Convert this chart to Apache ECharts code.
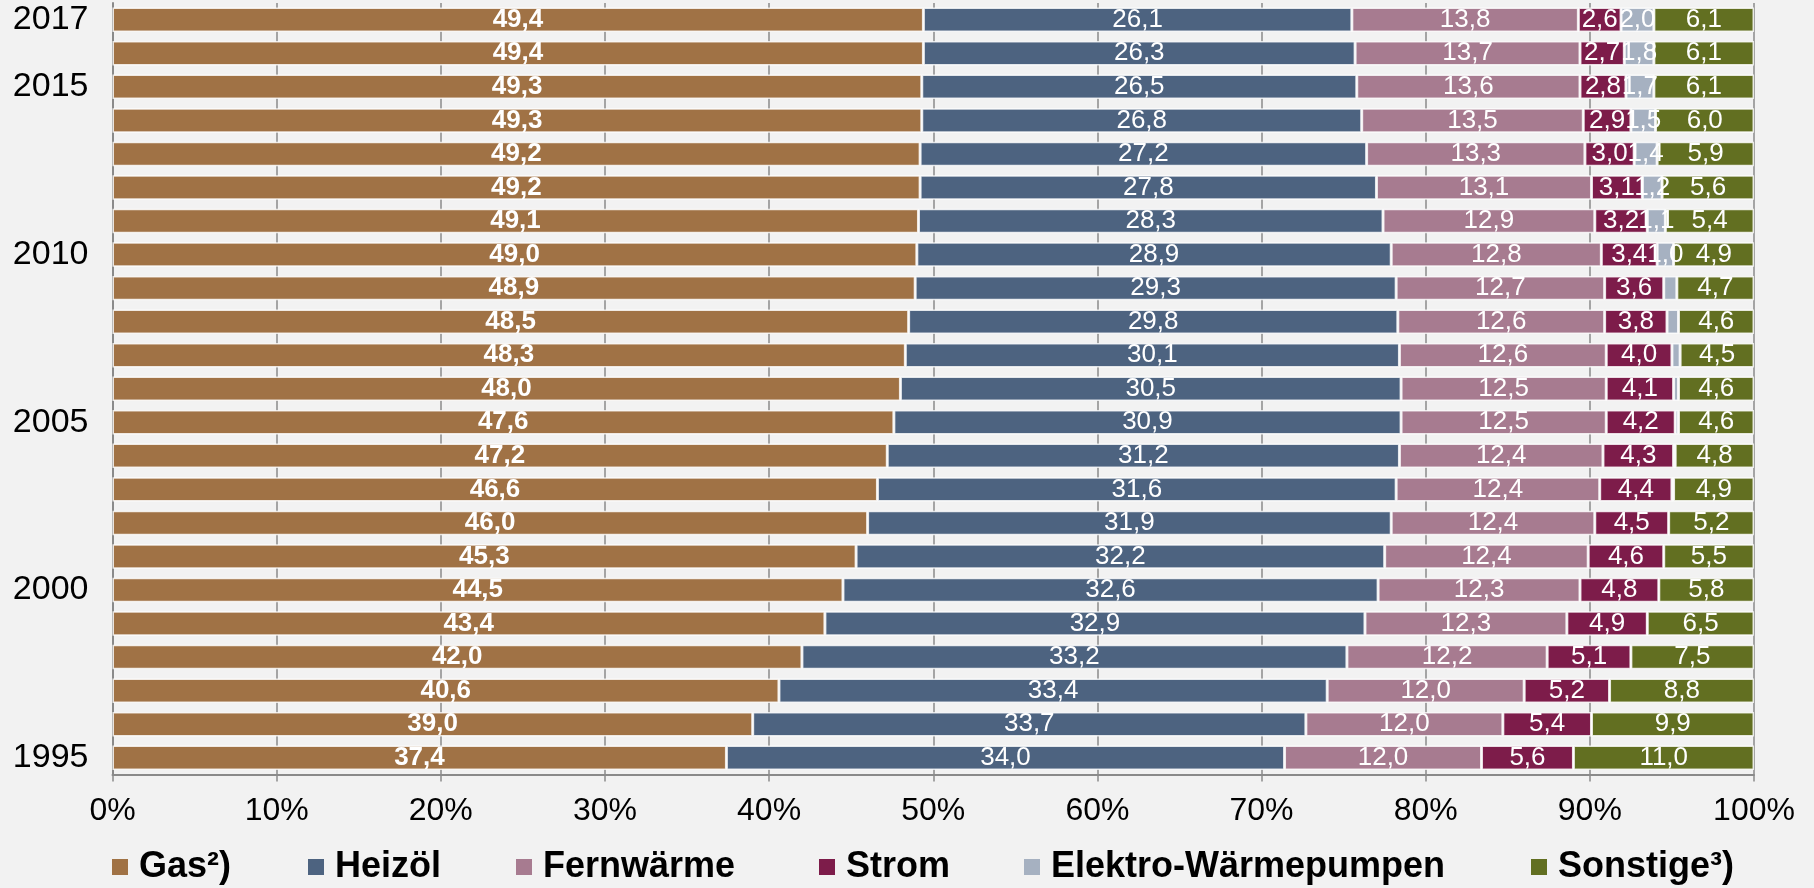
<!DOCTYPE html>
<html>
<head>
<meta charset="utf-8">
<script src="https://cdn.jsdelivr.net/npm/echarts@6/dist/echarts.min.js"></script>
<style>
html,body{margin:0;padding:0;background:#F2F2F2;}
#chart{width:1814px;height:888px;}
</style>
</head>
<body>
<div id="chart"></div>
<script>
// Categories (bottom to top)
const years = ['1995','1996','1997','1998','1999','2000','2001','2002','2003','2004','2005','2006','2007','2008','2009','2010','2011','2012','2013','2014','2015','2016','2017'];
const shownYears = ['1995','2000','2005','2010','2015','2017'];
const xTicks = [0,10,20,30,40,50,60,70,80,90,100];

// Series values (% share)
const gas      = [37.4,39.0,40.6,42.0,43.4,44.5,45.3,46.0,46.6,47.2,47.6,48.0,48.3,48.5,48.9,49.0,49.1,49.2,49.2,49.3,49.3,49.4,49.4];
const heizoel  = [34.0,33.7,33.4,33.2,32.9,32.6,32.2,31.9,31.6,31.2,30.9,30.5,30.1,29.8,29.3,28.9,28.3,27.8,27.2,26.8,26.5,26.3,26.1];
const fernw    = [12.0,12.0,12.0,12.2,12.3,12.3,12.4,12.4,12.4,12.4,12.5,12.5,12.6,12.6,12.7,12.8,12.9,13.1,13.3,13.5,13.6,13.7,13.8];
const strom    = [5.6,5.4,5.2,5.1,4.9,4.8,4.6,4.5,4.4,4.3,4.2,4.1,4.0,3.8,3.6,3.4,3.2,3.1,3.0,2.9,2.8,2.7,2.6];
const ewp      = [0,0,0,0,0,0,0,0,0.1,0.1,0.2,0.3,0.5,0.7,0.8,1.0,1.1,1.2,1.4,1.5,1.7,1.8,2.0];
const sonstige = [11.0,9.9,8.8,7.5,6.5,5.8,5.5,5.2,4.9,4.8,4.6,4.6,4.5,4.6,4.7,4.9,5.4,5.6,5.9,6.0,6.1,6.1,6.1];

const names = ['Gas²)','Heizöl','Fernwärme','Strom','Elektro-Wärmepumpen','Sonstige³)'];
const colors = ['#A07245','#4D6380','#A77B90','#7D1C4A','#A6B1C1','#626F21'];
const values = [gas, heizoel, fernw, strom, ewp, sonstige];
const legendLeft = [112, 308, 516, 819, 1024, 1531];

const fmt = v => v.toFixed(1).replace('.', ',');

const series = names.map((n, i) => ({
  name: n,
  type: 'bar',
  stack: 'total',
  barCategoryGap: '27%',
  data: values[i],
  itemStyle: { color: colors[i], borderColor: 'rgba(255,255,255,0.8)', borderWidth: 1.5 },
  label: {
    show: true,
    position: 'inside',
    color: '#ffffff',
    fontFamily: 'Liberation Sans, Arial, sans-serif',
    fontSize: 26,
    fontWeight: i === 0 ? 'bold' : 'normal',
    formatter: p => (i === 4 && p.value < 1.0) ? '' : fmt(p.value)
  },
  emphasis: { disabled: true }
}));

const legends = names.map((n, i) => ({
  data: [n],
  left: legendLeft[i],
  top: 849,
  padding: 0,
  itemWidth: 16,
  itemHeight: 16,
  icon: 'rect',
  itemStyle: { borderWidth: 0 },
  textStyle: { fontSize: 36, fontWeight: 'bold', color: '#000', fontFamily: 'Liberation Sans, Arial, sans-serif', padding: [0,0,0,6] },
  selectedMode: false
}));

const chart = echarts.init(document.getElementById('chart'), null, { renderer: 'canvas' });
chart.setOption({
  backgroundColor: '#F2F2F2',
  animation: false,
  legend: legends,
  grid: { left: 112.5, right: 60, top: 3, bottom: 113.5, containLabel: false },
  xAxis: {
    type: 'value',
    min: 0, max: 100, interval: 10,
    axisLine: { show: true, lineStyle: { color: '#8a8a8a', width: 2 } },
    axisTick: { show: true, length: 7, lineStyle: { color: '#8a8a8a', width: 1.5 } },
    splitLine: { show: true, lineStyle: { color: '#8a8a8a', width: 1.5 } },
    axisLabel: {
      formatter: v => xTicks.includes(v) ? v + '%' : '',
      fontSize: 32, color: '#000', margin: 21,
      fontFamily: 'Liberation Sans, Arial, sans-serif'
    }
  },
  yAxis: {
    type: 'category',
    data: years,
    axisLine: { show: true, lineStyle: { color: '#8a8a8a', width: 2 } },
    axisTick: { show: false },
    splitLine: { show: false },
    axisLabel: {
      interval: (idx, val) => shownYears.includes(val),
      fontSize: 34, color: '#000', margin: 24,
      fontFamily: 'Liberation Sans, Arial, sans-serif'
    }
  },
  series: series
});
</script>
</body>
</html>
